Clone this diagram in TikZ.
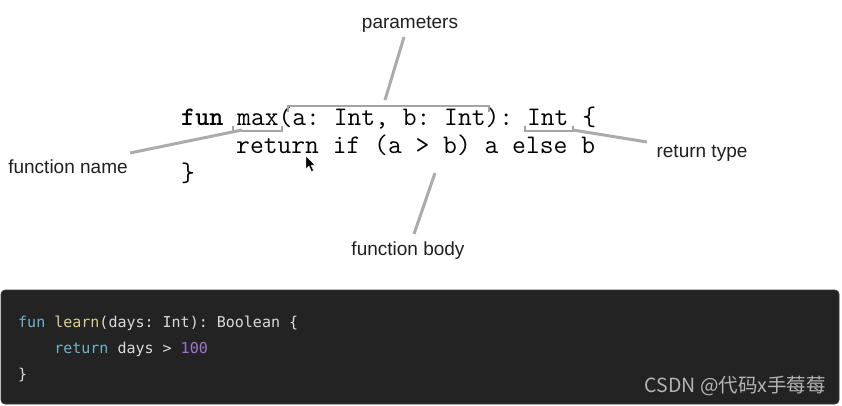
\documentclass[tikz,border=0pt]{standalone}
\usepackage{fontspec}
\setmainfont{Liberation Sans}
\newfontfamily\darkfont{DejaVu Sans Mono}
\newfontfamily\cjkfont{Noto Sans CJK SC}
\usepackage{xcolor}
\usepackage{tikz}
\usetikzlibrary{positioning}
\definecolor{leadgray}{HTML}{ABABAB}
\definecolor{bracegray}{HTML}{A3A3A3}
\definecolor{panelbg}{HTML}{232323}
\definecolor{panelrim}{HTML}{3A3A3A}
\definecolor{kwblue}{HTML}{6DB4C8}
\definecolor{fnyellow}{HTML}{D9CF8C}
\definecolor{numpurple}{HTML}{A274D4}
\definecolor{plaintext}{HTML}{DADADA}
\definecolor{marktext}{HTML}{B4B4B4}

\begin{document}
\frenchspacing
\begin{tikzpicture}[
  x=1pt, y=-1pt,
  code/.style={anchor=base west, inner sep=0pt, font=\ttfamily\fontsize{26.8}{28}\selectfont},
  dark/.style={anchor=base west, inner sep=0pt, text=plaintext, font=\darkfont\fontsize{15}{25}\selectfont},
  tag/.style={anchor=base, inner sep=0pt, text=black!88, font=\fontsize{19}{22}\selectfont},
  lead/.style={leadgray, line width=3pt},
  brace/.style={bracegray, line width=1.3pt},
]
\useasboundingbox (0,0) rectangle (842,405);

% ─── Top: annotated function ───
\node[code] (line1) at (181,125) {\textbf{fun} max(a: Int, b: Int): Int \{};
\node[code] (line2) at (236,153) {return if (a > b) a else b};
\node[code] (line3) at (181,181) {\}};

% brackets
\draw[brace] (233,126) -- (233,131) -- (282,131) -- (282,126);
\draw[brace] (288,112) -- (288,106) -- (489,106) -- (489,112);
\draw[brace] (525,126) -- (525,131) -- (573,131) -- (573,126);

% labels
\node[tag] (pname) at (410,28) {parameters};
\node[tag] (fname) at (68,173) {function name};
\node[tag] (rtype) at (702,157) {return type};
\node[tag] (fbody) at (408,255) {function body};

% leader lines
\coordinate (pfree) at (404,37);  \coordinate (pfix) at (385,100);
\coordinate (nfree) at (130,153); \coordinate (nfix) at (242,130);
\coordinate (rfree) at (647,142); \coordinate (rfix) at (573,130);
\coordinate (bfree) at (414,234); \coordinate (bfix) at (435,173);
\draw[lead] (pfree) -- (pfix);
\draw[lead] (nfree) -- (nfix);
\draw[lead] (rfree) -- (rfix);
\draw[lead] (bfree) -- (bfix);

% mouse pointer
\fill[black, draw=white, line width=0.4pt] (306,156) -- (306,169) -- (309,166) -- (311.5,171.5)
  -- (313.5,170.5) -- (311,165) -- (315,165) -- cycle;

% ─── Bottom: dark code panel ───
\fill[panelbg, draw=panelrim, line width=0.6pt, rounded corners=4] (1,290) rectangle (839,404);
\node[dark] (dark1) at (18,327) {\textcolor{kwblue}{fun} \textcolor{fnyellow}{learn}(days: Int): Boolean \{};
\node[dark] (dark2) at (54.1,353) {\textcolor{kwblue}{return} days > \textcolor{numpurple}{100}};
\node[dark] (dark3) at (18,379) {\}};
\node[anchor=base east, inner sep=0pt, text=marktext, font=\cjkfont\fontsize{19.5}{21}\selectfont] (mark) at (826,392) {CSDN @代码x手莓莓};

\end{tikzpicture}
\end{document}
